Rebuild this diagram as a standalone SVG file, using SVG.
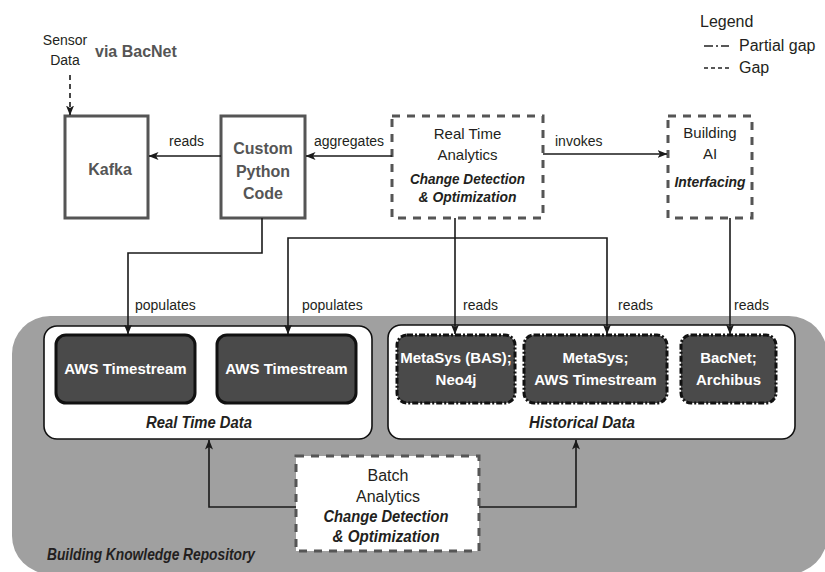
<svg xmlns="http://www.w3.org/2000/svg" width="825" height="572" viewBox="0 0 825 572">
<defs>
<marker id="arr" viewBox="0 0 10 8" refX="9.5" refY="4" markerWidth="10" markerHeight="8" markerUnits="userSpaceOnUse" orient="auto">
<path d="M0,0 L10,4 L0,8 L2.5,4 z" fill="#1a1a1a"/>
</marker>
<style>
text{font-family:"Liberation Sans",Arial,sans-serif;fill:#231f20}
.lbl{font-size:14px}
.reg{font-size:15px;text-anchor:middle}
.bi{font-size:15px;font-weight:bold;font-style:italic;text-anchor:middle}
.gb{font-size:16px;font-weight:bold;fill:#555;text-anchor:middle}
.wb{font-size:15px;font-weight:bold;fill:#fff;text-anchor:middle}
.solid{fill:#fff;stroke:#555;stroke-width:3}
.dash{fill:#fff;stroke:#555;stroke-width:3;stroke-dasharray:8 7}
.dark{fill:#4a4a4a;stroke:#111;stroke-width:3}
.dd{fill:#4a4a4a;stroke:#111;stroke-width:3;stroke-dasharray:6 2 2 2}
.conn{fill:none;stroke:#1a1a1a;stroke-width:1.6}
</style>
</defs>

<g id="repository">
<rect x="12" y="316" width="815" height="258" rx="38" fill="#a0a0a0"/>
<text x="47" y="560" textLength="208" lengthAdjust="spacingAndGlyphs" style="font-size:16px;font-weight:bold;font-style:italic">Building Knowledge Repository</text>
</g>

<g id="realtime-data">
<rect x="44" y="326" width="328" height="113" rx="13" fill="#fff" stroke="#111" stroke-width="1.6"/>
<text x="199" y="428" class="bi" textLength="106" lengthAdjust="spacingAndGlyphs" style="font-size:16px">Real Time Data</text>
</g>
<g id="historical-data">
<rect x="388" y="325" width="407" height="114" rx="13" fill="#fff" stroke="#111" stroke-width="1.6"/>
<text x="582" y="428" class="bi" textLength="106" lengthAdjust="spacingAndGlyphs" style="font-size:16px">Historical Data</text>
</g>

<g id="aws-timestream-1">
<rect x="56" y="335" width="139" height="68" rx="10" class="dark"/>
<text x="125.5" y="374" class="wb">AWS Timestream</text>
</g>
<g id="aws-timestream-2">
<rect x="217" y="335" width="139" height="68" rx="10" class="dark"/>
<text x="286.5" y="374" class="wb">AWS Timestream</text>
</g>
<g id="metasys-neo4j">
<rect x="397" y="335" width="118" height="68" rx="10" class="dd"/>
<text x="456" y="363" class="wb">MetaSys (BAS);</text>
<text x="456" y="385" class="wb">Neo4j</text>
</g>
<g id="metasys-aws">
<rect x="524" y="335" width="143" height="68" rx="10" class="dd"/>
<text x="595.5" y="363" class="wb">MetaSys;</text>
<text x="595.5" y="385" class="wb">AWS Timestream</text>
</g>
<g id="bacnet-archibus">
<rect x="681" y="335" width="95" height="68" rx="10" class="dd"/>
<text x="728.5" y="363" class="wb">BacNet;</text>
<text x="728.5" y="385" class="wb">Archibus</text>
</g>

<g id="sensor-data">
<text x="65" y="45" class="lbl" style="text-anchor:middle">Sensor</text>
<text x="65" y="65" class="lbl" style="text-anchor:middle">Data</text>
<text x="95" y="57" style="font-size:16px;font-weight:bold;fill:#555">via BacNet</text>
</g>

<g id="kafka">
<rect x="65" y="116" width="83" height="102" class="solid"/>
<text x="110" y="175" class="gb">Kafka</text>
</g>
<g id="custom-python">
<rect x="221" y="116" width="84" height="102" class="solid"/>
<text x="263" y="154" class="gb">Custom</text>
<text x="263" y="177" class="gb">Python</text>
<text x="263" y="199" class="gb">Code</text>
</g>
<g id="realtime-analytics">
<rect x="392" y="116" width="151" height="102" class="dash"/>
<text x="467.5" y="139" class="reg">Real Time</text>
<text x="467.5" y="160" class="reg">Analytics</text>
<text x="467.5" y="184" class="bi" textLength="115" lengthAdjust="spacingAndGlyphs">Change Detection</text>
<text x="467.5" y="202" class="bi" textLength="98" lengthAdjust="spacingAndGlyphs">&amp; Optimization</text>
</g>
<g id="building-ai">
<rect x="668" y="116" width="84" height="102" class="dash"/>
<text x="710" y="138" class="reg">Building</text>
<text x="710" y="159" class="reg">AI</text>
<text x="710" y="187" class="bi" textLength="71" lengthAdjust="spacingAndGlyphs">Interfacing</text>
</g>
<g id="batch-analytics">
<rect x="296" y="456" width="183" height="95" class="dash"/>
<text x="388" y="481" class="reg" style="font-size:16px">Batch</text>
<text x="388" y="502" class="reg" style="font-size:16px">Analytics</text>
<text x="386" y="522" class="bi" textLength="125" lengthAdjust="spacingAndGlyphs" style="font-size:16.5px">Change Detection</text>
<text x="386" y="542" class="bi" textLength="107" lengthAdjust="spacingAndGlyphs" style="font-size:16.5px">&amp; Optimization</text>
</g>

<g id="legend">
<text x="700" y="27" style="font-size:16px">Legend</text>
<line x1="704" y1="46" x2="729" y2="46" stroke="#222" stroke-width="1.6" stroke-dasharray="9 3 2 3 8"/>
<text x="739" y="51" style="font-size:16px">Partial gap</text>
<line x1="704" y1="68" x2="729" y2="68" stroke="#222" stroke-width="1.6" stroke-dasharray="4 3"/>
<text x="739" y="73" style="font-size:16px">Gap</text>
</g>

<g id="connectors">
<path class="conn" d="M70,75 V115" stroke-dasharray="5 4" marker-end="url(#arr)"/>
<path class="conn" d="M221,156 H149" marker-end="url(#arr)"/>
<path class="conn" d="M392,156 H306" marker-end="url(#arr)"/>
<path class="conn" d="M543,154 H667" marker-end="url(#arr)"/>
<path class="conn" d="M262,218 V253 H128 V334" marker-end="url(#arr)"/>
<path class="conn" d="M455,218 V334" marker-end="url(#arr)"/>
<path class="conn" d="M455,238 H288 V334" marker-end="url(#arr)"/>
<path class="conn" d="M455,238 H607 V334" marker-end="url(#arr)"/>
<path class="conn" d="M730,218 V334" marker-end="url(#arr)"/>
<path class="conn" d="M296,507 H209 V440" marker-end="url(#arr)"/>
<path class="conn" d="M479,507 H576 V440" marker-end="url(#arr)"/>
<text x="169" y="146" class="lbl">reads</text>
<text x="314" y="146" class="lbl">aggregates</text>
<text x="555" y="146" class="lbl">invokes</text>
<text x="135" y="310" class="lbl">populates</text>
<text x="302" y="310" class="lbl">populates</text>
<text x="463" y="310" class="lbl">reads</text>
<text x="618" y="310" class="lbl">reads</text>
<text x="734" y="310" class="lbl">reads</text>
</g>
</svg>
